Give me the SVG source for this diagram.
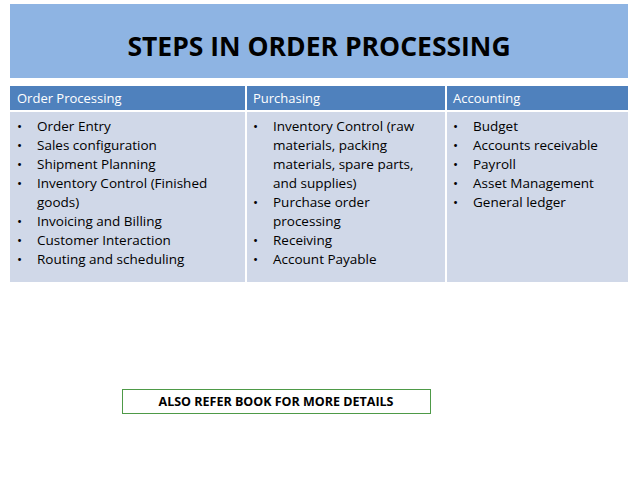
<svg xmlns="http://www.w3.org/2000/svg" width="638" height="479" viewBox="0 0 638 479">
<style>
text{font-family:"Open Sans","Liberation Sans",sans-serif;}
.h{fill:#fff;font-size:13px}
.b{fill:#000;font-size:13.5px}
.body{fill:#D0D8E8}
</style>
<rect width="638" height="479" fill="#fff"/>
<rect x="10" y="4" width="618" height="74" fill="#8EB4E3"/>
<text x="319" y="56" text-anchor="middle" font-size="26.5" font-weight="bold" fill="#000">STEPS IN ORDER PROCESSING</text>
<rect x="10" y="86" width="235" height="24" fill="#4F81BD"/>
<rect x="247" y="86" width="198" height="24" fill="#4F81BD"/>
<rect x="447" y="86" width="181" height="24" fill="#4F81BD"/>
<rect x="10" y="112" width="235" height="170" class="body"/>
<rect x="247" y="112" width="198" height="170" class="body"/>
<rect x="447" y="112" width="181" height="170" class="body"/>
<text class="h" x="17" y="103">Order Processing</text>
<text class="h" x="253" y="103">Purchasing</text>
<text class="h" x="453" y="103">Accounting</text>
<g class="b">
<text class="b" x="17" y="131">•</text><text class="b" x="37" y="131">Order Entry</text>
<text class="b" x="17" y="150">•</text><text class="b" x="37" y="150">Sales configuration</text>
<text class="b" x="17" y="169">•</text><text class="b" x="37" y="169">Shipment Planning</text>
<text class="b" x="17" y="188">•</text><text class="b" x="37" y="188">Inventory Control (Finished</text>
<text class="b" x="37" y="207">goods)</text>
<text class="b" x="17" y="226">•</text><text class="b" x="37" y="226">Invoicing and Billing</text>
<text class="b" x="17" y="245">•</text><text class="b" x="37" y="245">Customer Interaction</text>
<text class="b" x="17" y="264">•</text><text class="b" x="37" y="264">Routing and scheduling</text>

<text class="b" x="253" y="131">•</text><text class="b" x="273" y="131">Inventory Control (raw</text>
<text class="b" x="273" y="150">materials, packing</text>
<text class="b" x="273" y="169">materials, spare parts,</text>
<text class="b" x="273" y="188">and supplies)</text>
<text class="b" x="253" y="207">•</text><text class="b" x="273" y="207">Purchase order</text>
<text class="b" x="273" y="226">processing</text>
<text class="b" x="253" y="245">•</text><text class="b" x="273" y="245">Receiving</text>
<text class="b" x="253" y="264">•</text><text class="b" x="273" y="264">Account Payable</text>

<text class="b" x="453" y="131">•</text><text class="b" x="473" y="131">Budget</text>
<text class="b" x="453" y="150">•</text><text class="b" x="473" y="150">Accounts receivable</text>
<text class="b" x="453" y="169">•</text><text class="b" x="473" y="169">Payroll</text>
<text class="b" x="453" y="188">•</text><text class="b" x="473" y="188">Asset Management</text>
<text class="b" x="453" y="207">•</text><text class="b" x="473" y="207">General ledger</text>
</g>
<rect x="122.5" y="389.5" width="308" height="24" fill="#fff" stroke="#4E9A48" stroke-width="1"/>
<text x="276" y="406" text-anchor="middle" font-size="12.5" font-weight="bold" fill="#000">ALSO REFER BOOK FOR MORE DETAILS</text>
</svg>
